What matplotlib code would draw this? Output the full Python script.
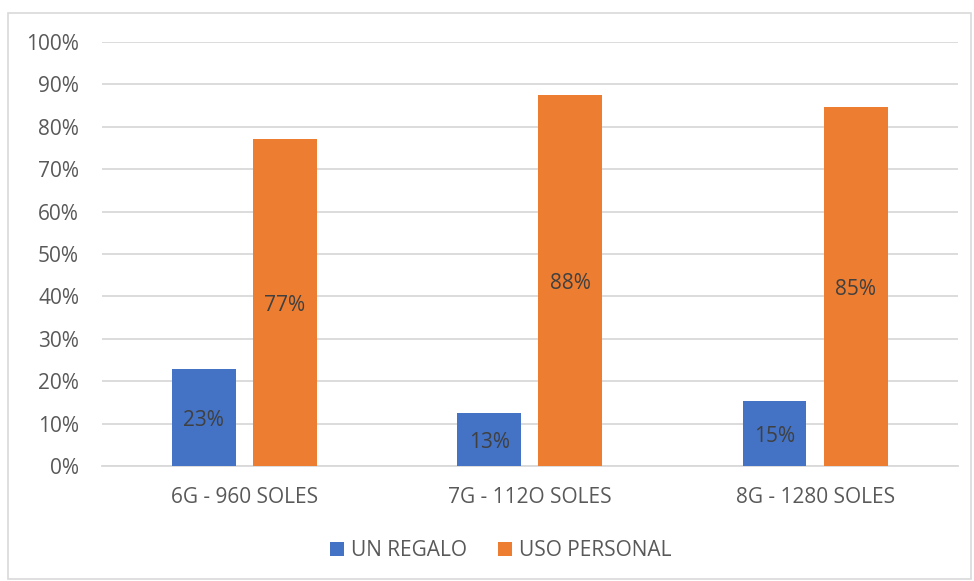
import numpy as np
import matplotlib.pyplot as plt
from matplotlib.patches import Rectangle

plt.rcParams['font.family'] = ['Open Sans', 'DejaVu Sans']

categories = ['6G - 960 SOLES', '7G - 112O SOLES', '8G - 1280 SOLES']
un_regalo = [0.228, 0.126, 0.153]
uso_personal = [0.772, 0.876, 0.847]
yticks = np.arange(0, 1.01, 0.1)

blue = '#4472C4'
orange = '#ED7D31'
txt = '#595959'
fs = 15

fig = plt.figure(figsize=(9.74, 5.81), dpi=100)
ax = fig.add_axes([102 / 974, 1 - 466 / 581, 856 / 974, 424 / 581])

x = np.arange(len(categories))
w = 0.224
b1 = ax.bar(x - 0.143, un_regalo, w, color=blue, label='UN REGALO', zorder=3)
b2 = ax.bar(x + 0.141, uso_personal, w, color=orange, label='USO PERSONAL', zorder=3)

# value labels in the middle of each bar
for bars, vals in ((b1, un_regalo), (b2, uso_personal)):
    for r, v in zip(bars, vals):
        ax.annotate('{:.0f}%'.format(v * 100),
                    (r.get_x() + r.get_width() / 2, v / 2),
                    xytext=(0, -2), textcoords='offset points',
                    ha='center', va='center', fontsize=fs, color='#404040', zorder=4)

ax.set_xlim(-0.5, 2.5)
ax.set_ylim(0, 1)
ax.set_yticks(yticks)
ax.set_yticklabels(['{:.0f}%'.format(t * 100) for t in yticks])
ax.set_xticks(x)
ax.set_xticklabels(categories)
ax.grid(axis='y', color='#D9D9D9', lw=1.3, zorder=0)
for s in ['top', 'right', 'left']:
    ax.spines[s].set_visible(False)
ax.spines['bottom'].set_color('#D9D9D9')
ax.spines['bottom'].set_linewidth(1.3)
ax.tick_params(axis='both', length=0, labelsize=fs, colors=txt)
ax.tick_params(axis='y', pad=16.5)
ax.tick_params(axis='x', pad=15)

leg = fig.legend(loc='center', bbox_to_anchor=(501 / 974, 1 - 551 / 581), ncol=2,
                 frameon=False, fontsize=fs, handlelength=0.65, handleheight=0.65,
                 columnspacing=1.5, handletextpad=0.35)
for t in leg.get_texts():
    t.set_color(txt)

# outer chart frame
fig.patches.append(Rectangle((8 / 974, 2 / 581), 963 / 974, 1 - 15 / 581,
                             transform=fig.transFigure, fill=False,
                             edgecolor='#D9D9D9', lw=1.2))

fig.savefig('out.png', dpi=100)
